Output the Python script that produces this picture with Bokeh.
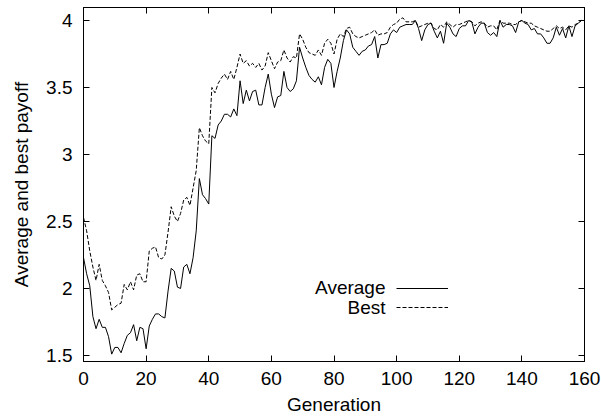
from bokeh.plotting import figure
from bokeh.models import (Range1d, LinearAxis, FixedTicker, Legend, LegendItem, Label,
                          CustomJSTickFormatter)
from bokeh.core.properties import value
from bokeh.embed import file_html
from bokeh.resources import INLINE

generation = list(range(161))
average = [
    2.23, 2.11, 2.02, 1.79, 1.70, 1.77, 1.71, 1.71, 1.64, 1.51,
    1.56, 1.56, 1.52, 1.59, 1.65, 1.67, 1.73, 1.61, 1.71, 1.70,
    1.55, 1.72, 1.77, 1.81, 1.81, 1.79, 1.78, 1.98, 2.15, 2.13,
    2.01, 2.00, 2.16, 2.18, 2.11, 2.23, 2.43, 2.82, 2.70, 2.67,
    2.63, 3.14, 3.12, 3.22, 3.25, 3.30, 3.30, 3.28, 3.34, 3.29,
    3.55, 3.38, 3.48, 3.40, 3.47, 3.48, 3.37, 3.37, 3.50, 3.60,
    3.45, 3.35, 3.43, 3.44, 3.62, 3.50, 3.47, 3.49, 3.55, 3.80,
    3.72, 3.65, 3.59, 3.56, 3.54, 3.58, 3.52, 3.65, 3.71, 3.68,
    3.50, 3.62, 3.72, 3.85, 3.93, 3.90, 3.80, 3.77, 3.74, 3.77,
    3.78, 3.81, 3.82, 3.88, 3.72, 3.82, 3.82, 3.83, 3.90, 3.93,
    3.91, 3.95, 3.96, 3.97, 3.97, 3.97, 4.00, 3.94, 3.85, 3.93,
    3.97, 3.98, 3.92, 3.87, 3.92, 3.83, 3.98, 3.95, 3.90, 3.88,
    3.94, 3.96, 3.96, 4.00, 3.99, 3.90, 3.95, 3.98, 3.98, 3.91,
    3.89, 3.91, 3.88, 4.00, 3.95, 3.97, 3.97, 3.96, 3.91, 3.99,
    4.00, 3.98, 3.97, 3.93, 3.94, 3.90, 3.90, 3.87, 3.83, 3.83,
    3.87, 3.95, 3.89, 3.94, 3.87, 3.96, 3.88, 3.96, 3.98, 4.00,
    4.00,
]
best = [
    2.53, 2.43, 2.28, 2.16, 2.06, 2.18, 2.06, 2.02, 1.97, 1.84,
    1.86, 1.88, 1.89, 2.03, 1.99, 2.05, 1.99, 2.10, 2.11, 2.05,
    2.05, 2.28, 2.30, 2.31, 2.23, 2.22, 2.25, 2.42, 2.61, 2.54,
    2.50, 2.56, 2.66, 2.68, 2.62, 2.75, 2.88, 3.20, 3.14, 3.10,
    3.08, 3.50, 3.46, 3.53, 3.57, 3.60, 3.56, 3.62, 3.56, 3.65,
    3.75, 3.68, 3.70, 3.66, 3.68, 3.65, 3.68, 3.63, 3.66, 3.76,
    3.70, 3.64, 3.69, 3.70, 3.78, 3.72, 3.69, 3.73, 3.72, 3.90,
    3.86, 3.80, 3.76, 3.75, 3.74, 3.78, 3.74, 3.83, 3.86, 3.83,
    3.75, 3.86, 3.90, 3.88, 3.94, 3.95, 3.90, 3.88, 3.87, 3.88,
    3.89, 3.90, 3.91, 3.93, 3.89, 3.90, 3.90, 3.91, 3.95, 3.97,
    3.98, 4.01, 4.02, 3.99, 3.99, 3.99, 4.00, 3.95, 3.96, 3.97,
    3.98, 3.98, 3.94, 3.93, 3.97, 3.95, 3.99, 3.97, 3.95, 3.97,
    3.97, 3.98, 3.99, 4.00, 3.99, 3.96, 3.98, 3.99, 3.98, 3.95,
    3.96, 3.96, 3.93, 4.00, 3.98, 3.98, 3.98, 3.97, 3.97, 3.99,
    4.00, 3.99, 3.98, 3.98, 3.96, 3.95, 3.94, 3.93, 3.92, 3.92,
    3.94, 3.96, 3.94, 3.95, 3.93, 3.96, 3.95, 3.97, 3.98, 4.00,
    4.00,
]
series_names = ["Average", "Best"]
x_ticks = [0, 20, 40, 60, 80, 100, 120, 140, 160]
x_tick_labels = ["0", "20", "40", "60", "80", "100", "120", "140", "160"]
y_ticks = [1.5, 2, 2.5, 3, 3.5, 4]
y_tick_labels = ["1.5", "2", "2.5", "3", "3.5", "4"]
x_label = "Generation"
y_label = "Average and best payoff"

FONT = "Liberation Sans"
FS = "19px"

p = figure(width=601, height=418, output_backend="svg", toolbar_location=None,
           x_range=Range1d(0, 160), y_range=Range1d(1.455, 4.097),
           min_border_left=83, min_border_right=17, min_border_top=7,
           min_border_bottom=57, x_axis_label=x_label, y_axis_label=y_label)
p.xgrid.visible = False
p.ygrid.visible = False
p.outline_line_color = "black"
p.outline_line_width = 1
p.background_fill_color = "white"
p.border_fill_color = "white"

def style_axis(ax, ticks, labels, standoff):
    ax.ticker = FixedTicker(ticks=ticks)
    ax.major_label_overrides = {t: l for t, l in zip(ticks, labels)}
    ax.major_tick_in = 6
    ax.major_tick_out = 0
    ax.minor_tick_line_color = None
    ax.axis_line_color = "black"
    ax.major_tick_line_color = "black"
    ax.major_label_text_font = FONT
    ax.major_label_text_font_size = FS
    ax.major_label_text_color = "black"
    ax.major_label_standoff = standoff
    ax.axis_label_text_font = FONT
    ax.axis_label_text_font_size = FS
    ax.axis_label_text_font_style = "normal"
    ax.axis_label_text_color = "black"

style_axis(p.xaxis[0], x_ticks, x_tick_labels, 10)
p.xaxis[0].axis_label_standoff = 6
style_axis(p.yaxis[0], y_ticks, y_tick_labels, 11)
p.yaxis[0].axis_label_standoff = 11

blank = CustomJSTickFormatter(code="return ''")
top = LinearAxis(ticker=FixedTicker(ticks=x_ticks), formatter=blank,
                 major_tick_in=6, major_tick_out=0, minor_tick_line_color=None,
                 major_label_text_font_size="0px", major_label_standoff=0)
right = LinearAxis(ticker=FixedTicker(ticks=y_ticks), formatter=blank,
                   major_tick_in=6, major_tick_out=0, minor_tick_line_color=None,
                   major_label_text_font_size="0px", major_label_standoff=0)
p.add_layout(top, "above")
p.add_layout(right, "right")

r_avg = p.line(generation, average, line_color="black", line_width=1)
r_best = p.line(generation, best, line_color="black", line_width=1, line_dash="4 2")

legend = Legend(items=[LegendItem(label=value(""), renderers=[r_avg]),
                       LegendItem(label=value(""), renderers=[r_best])],
                location=(313, 46), glyph_width=52, glyph_height=16,
                label_height=16, label_width=0, label_standoff=0, spacing=3,
                padding=0, margin=0, border_line_color=None,
                background_fill_alpha=0)
p.add_layout(legend)

for name, ypos in zip(series_names, [74, 54]):
    p.add_layout(Label(x=302, y=ypos, x_units="screen", y_units="screen",
                       text=name, text_align="right", text_baseline="middle",
                       text_font=FONT, text_font_size=FS,
                       text_color="black"))

open("out.html", "w").write(file_html(p, INLINE))
